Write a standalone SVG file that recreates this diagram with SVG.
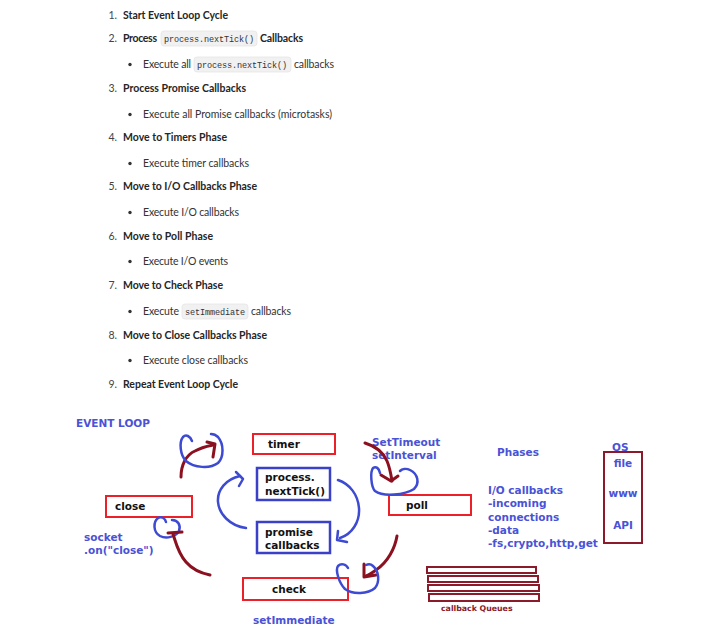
<svg xmlns="http://www.w3.org/2000/svg" width="728" height="642" viewBox="0 0 728 642">
<style>
.it{font-family:Lato,"Open Sans","Liberation Sans",sans-serif;font-size:10.5px;font-weight:700;fill:#262626}
.bt{font-family:Lato,"Open Sans","Liberation Sans",sans-serif;font-size:10.5px;font-weight:400;fill:#333}
.num{font-family:Lato,"Open Sans","Liberation Sans",sans-serif;font-size:10.5px;fill:#444;text-anchor:end}
.code{font-family:"Liberation Mono","DejaVu Sans Mono",monospace;font-size:8.5px;fill:#333}
.cbg{fill:#f1f1f1;stroke:#e6e6e6;stroke-width:0.8}
.dot{fill:#333}
.lbl{font-family:"DejaVu Sans",sans-serif;font-weight:700;font-size:10.5px;fill:#111}
.blu{font-family:"DejaVu Sans",sans-serif;font-weight:700;font-size:10.5px;fill:#4a52d6}
.rbox{fill:#fff;stroke:#ec2028;stroke-width:2}
.bbox{fill:#fff;stroke:#3a40c8;stroke-width:2.5}
.dbox{fill:#fff;stroke:#8b1a2a;stroke-width:2}
.bs{fill:none;stroke:#3d4ad2;stroke-width:2.5;stroke-linecap:round;stroke-linejoin:round}
.rs{fill:none;stroke:#8b1020;stroke-width:3;stroke-linecap:round;stroke-linejoin:round}
</style>
<rect width="728" height="642" fill="#fff"/>
<g id="steps">
<text class="num" x="117" y="19">1.</text><text class="it" x="123" y="19" textLength="105">Start Event Loop Cycle</text>
<text class="num" x="117" y="42">2.</text><text class="it" x="123" y="42" textLength="34">Process</text>
<rect class="cbg" x="161" y="31" width="96" height="15" rx="3"/><text class="code" x="164" y="41.5" textLength="90">process.nextTick()</text>
<text class="it" x="260" y="42" textLength="43">Callbacks</text>
<circle class="dot" cx="130" cy="64.5" r="1.7"/><text class="bt" x="143" y="68" textLength="48">Execute all</text>
<rect class="cbg" x="194" y="57" width="97" height="15" rx="3"/><text class="code" x="197" y="67.5" textLength="90">process.nextTick()</text>
<text class="bt" x="294" y="68" textLength="40">callbacks</text>
<text class="num" x="117" y="92">3.</text><text class="it" x="123" y="92" textLength="123">Process Promise Callbacks</text>
<circle class="dot" cx="130" cy="114.5" r="1.7"/><text class="bt" x="143" y="118" textLength="189">Execute all Promise callbacks (microtasks)</text>
<text class="num" x="117" y="141">4.</text><text class="it" x="123" y="141" textLength="104">Move to Timers Phase</text>
<circle class="dot" cx="130" cy="163.5" r="1.7"/><text class="bt" x="143" y="167" textLength="106">Execute timer callbacks</text>
<text class="num" x="117" y="190">5.</text><text class="it" x="123" y="190" textLength="134">Move to I/O Callbacks Phase</text>
<circle class="dot" cx="130" cy="212.5" r="1.7"/><text class="bt" x="143" y="216" textLength="96">Execute I/O callbacks</text>
<text class="num" x="117" y="240">6.</text><text class="it" x="123" y="240" textLength="90">Move to Poll Phase</text>
<circle class="dot" cx="130" cy="261.5" r="1.7"/><text class="bt" x="143" y="265" textLength="85">Execute I/O events</text>
<text class="num" x="117" y="289">7.</text><text class="it" x="123" y="289" textLength="100">Move to Check Phase</text>
<circle class="dot" cx="130" cy="311.5" r="1.7"/><text class="bt" x="143" y="315" textLength="36">Execute</text>
<rect class="cbg" x="182" y="304" width="66" height="15" rx="3"/><text class="code" x="185" y="314.5" textLength="60">setImmediate</text>
<text class="bt" x="251" y="315" textLength="40">callbacks</text>
<text class="num" x="117" y="339">8.</text><text class="it" x="123" y="339" textLength="144">Move to Close Callbacks Phase</text>
<circle class="dot" cx="130" cy="360.5" r="1.7"/><text class="bt" x="143" y="364" textLength="105">Execute close callbacks</text>
<text class="num" x="117" y="388">9.</text><text class="it" x="123" y="388" textLength="115">Repeat Event Loop Cycle</text>
</g>
<g id="title"><text class="blu" x="76" y="427">EVENT LOOP</text></g>
<g id="timer"><rect class="rbox" x="253" y="434" width="82" height="20"/><text class="lbl" x="268" y="448">timer</text></g>
<g id="nexttick"><rect class="bbox" x="257" y="468" width="73" height="32"/><text class="lbl" x="265" y="481">process.</text><text class="lbl" x="265" y="495">nextTick()</text></g>
<g id="promise"><rect class="bbox" x="257" y="522" width="73" height="31"/><text class="lbl" x="265" y="536">promise</text><text class="lbl" x="265" y="549">callbacks</text></g>
<g id="poll"><rect class="rbox" x="389" y="495" width="82" height="20"/><text class="lbl" x="406" y="509">poll</text></g>
<g id="check"><rect class="rbox" x="243" y="578" width="105" height="22"/><text class="lbl" x="272" y="593">check</text></g>
<g id="close"><rect class="rbox" x="106" y="496" width="86" height="21"/><text class="lbl" x="115" y="510">close</text></g>
<g id="socket-label"><text class="blu" x="84" y="541">socket</text><text class="blu" x="84" y="554">.on("close")</text></g>
<g id="setimmediate-label"><text class="blu" x="253" y="624">setImmediate</text></g>
<g id="timers-label"><text class="blu" x="372" y="446">SetTimeout</text><text class="blu" x="372" y="459">setInterval</text></g>
<g id="phases-label"><text class="blu" x="497" y="456">Phases</text></g>
<g id="io-label">
<text class="blu" x="488" y="494">I/O callbacks</text>
<text class="blu" x="488" y="507">-incoming</text>
<text class="blu" x="488" y="521">connections</text>
<text class="blu" x="488" y="534">-data</text>
<text class="blu" x="488" y="547">-fs,crypto,http,get</text>
</g>
<g id="os">
<text class="blu" x="612" y="451">OS</text>
<rect class="dbox" x="604" y="452" width="38" height="91"/>
<text class="blu" x="623" y="467" text-anchor="middle">file</text>
<text class="blu" x="623" y="497" text-anchor="middle" font-size="11.5">www</text>
<text class="blu" x="623" y="529" text-anchor="middle">API</text>
</g>
<g id="callback-queues">
<rect class="dbox" x="427" y="567" width="109" height="6"/>
<rect class="dbox" x="428" y="576" width="110" height="6"/>
<rect class="dbox" x="428" y="585" width="111" height="6"/>
<rect class="dbox" x="429" y="594" width="110" height="7"/>
<text x="441" y="611" font-family="DejaVu Sans,sans-serif" font-weight="700" font-size="7.8" fill="#8b1a2a">callback Queues</text>
</g>
<g id="connectors">
<path class="rs" d="M181,477 C181,465 186,455 195,451 C202,447 208,446 213,445"/>
<path class="rs" d="M207,442 L215,444 L213,457"/>
<path class="bs" d="M192,441 C190,436 186,434 183,437 C179,442 180,455 186,461 C194,468 210,469 218,463 C224,457 224,444 218,437 C216,435 213,434 211,434"/>
<path class="bs" d="M166,522 C165,518 161,516 158,518 C153,522 153,532 160,536 C166,539 176,537 179,531 C181,525 178,520 172,520"/>
<path class="rs" d="M210,575 C200,573 192,569 186,562 C178,553 176,543 173,534"/>
<path class="rs" d="M168,533 L182,532"/>
<path class="bs" d="M246,528 C230,526 219,514 218,502 C217,490 226,479 240,476"/>
<path class="bs" d="M236,472 L243,479 L239,486"/>
<path class="bs" d="M338,480 C350,484 358,495 359,508 C360,522 352,534 340,538"/>
<path class="bs" d="M338,531 L337,540 L347,542"/>
<path class="rs" d="M365,443 C375,446 383,452 387,461 C390,468 391,475 392,481"/>
<path class="rs" d="M381,475 L391,481 L398,476"/>
<path class="bs" d="M380,473 C379,468 376,466 373,468 C370,472 371,487 375,491 C383,497 405,495 414,489 C420,483 418,474 410,470 C406,468 402,469 400,471"/>
<path class="rs" d="M397,536 C395,548 388,562 376,570 C372,573 369,575 366,576"/>
<path class="rs" d="M364,564 L364,577 L376,575"/>
<path class="bs" d="M348,568 C346,564 341,563 338,566 C335,570 339,583 345,589 C353,595 368,594 375,588 C380,582 379,571 373,566 C371,564 368,564 366,565"/>
</g>
</svg>
